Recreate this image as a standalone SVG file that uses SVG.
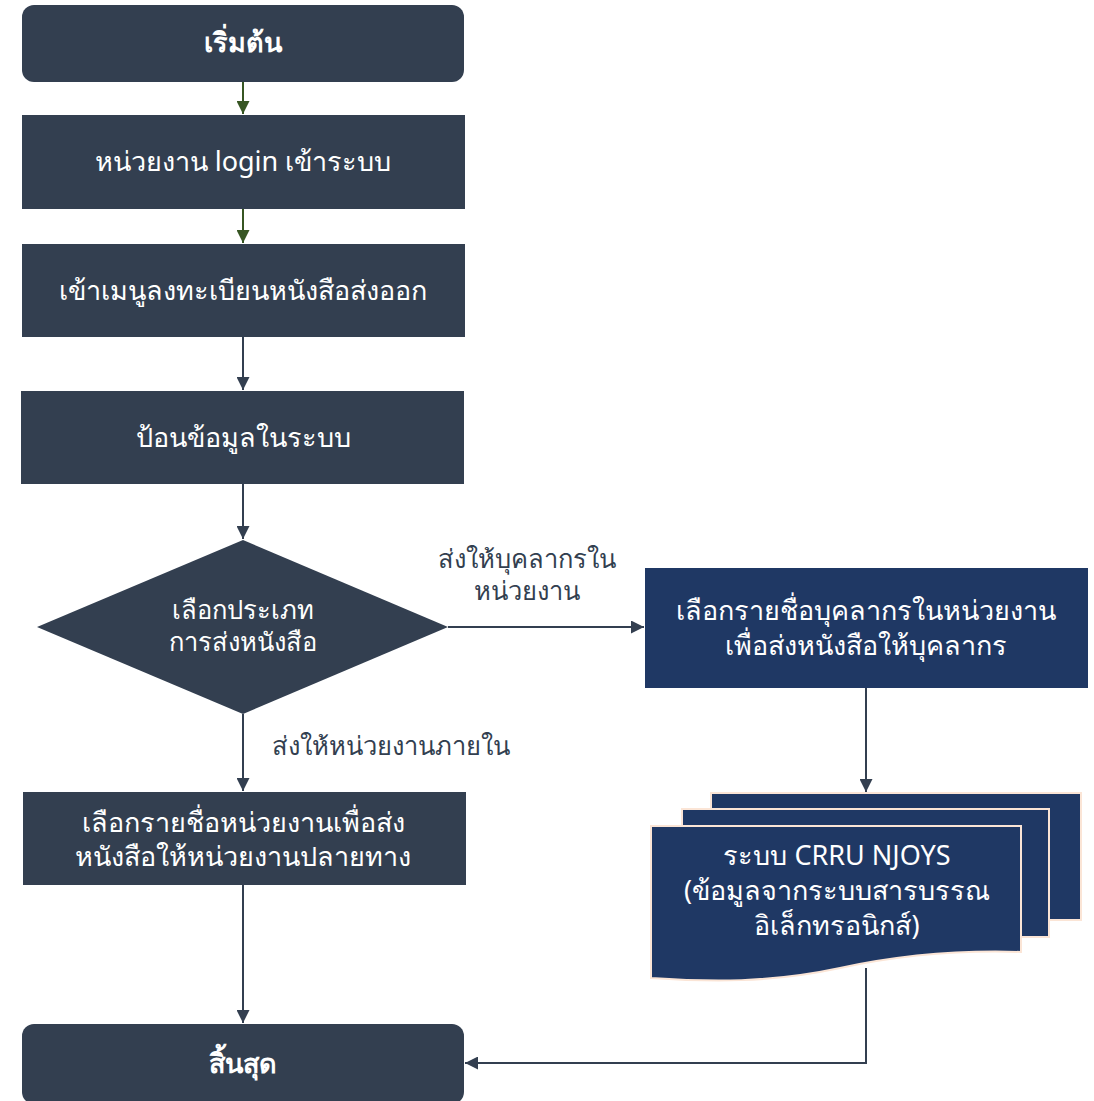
<svg xmlns="http://www.w3.org/2000/svg" width="1094" height="1101" viewBox="0 0 1094 1101">
<defs>
<style>
.t{font-family:"Noto Sans","DejaVu Sans",sans-serif;font-size:27px;fill:#ffffff;text-anchor:middle}
.dt{font-size:25.5px}
.b{font-weight:bold}
.l{font-family:"Noto Sans","DejaVu Sans",sans-serif;font-size:25.5px;fill:#333f50;text-anchor:middle}
.s{fill:#333f50}
.n{fill:#1f3864}
.c{fill:none;stroke:#333f50;stroke-width:2}
.g{fill:none;stroke:#375623;stroke-width:2}
.d{fill:#1f3864;stroke:#fbe5d6;stroke-width:2}
</style>
<marker id="a" viewBox="0 0 10 10" refX="10" refY="5" markerWidth="13" markerHeight="13" markerUnits="userSpaceOnUse" orient="auto"><path d="M0,0 L10,5 L0,10 Z" fill="#333f50"/></marker>
<marker id="ag" viewBox="0 0 10 10" refX="10" refY="5" markerWidth="13" markerHeight="13" markerUnits="userSpaceOnUse" orient="auto"><path d="M0,0 L10,5 L0,10 Z" fill="#375623"/></marker>
</defs>
<rect width="1094" height="1101" fill="#ffffff"/>
<g id="connectors">
<path class="g" d="M243,82 V114" style="marker-end:url(#ag)"/>
<path class="g" d="M243,209 V243" style="marker-end:url(#ag)"/>
<path class="c" d="M243,337 V390" style="marker-end:url(#a)"/>
<path class="c" d="M243,484 V539" style="marker-end:url(#a)"/>
<path class="c" d="M448,627 H644" style="marker-end:url(#a)"/>
<path class="c" d="M243,714 V791" style="marker-end:url(#a)"/>
<path class="c" d="M866,688 V792" style="marker-end:url(#a)"/>
<path class="c" d="M243,885 V1023" style="marker-end:url(#a)"/>
<path class="c" d="M866,968 V1063 H465" style="marker-end:url(#a)"/>
<text class="l" x="527" y="568">ส่งให้บุคลากรใน</text>
<text class="l" x="527" y="600">หน่วยงาน</text>
<text class="l" x="391" y="755">ส่งให้หน่วยงานภายใน</text>
</g>
<g id="start">
<rect class="s" x="22" y="5" width="442" height="77" rx="12"/>
<text class="t b" x="243" y="52">เริ่มต้น</text>
</g>
<g id="login">
<rect class="s" x="22" y="115" width="443" height="94"/>
<text class="t" x="243" y="171">หน่วยงาน login เข้าระบบ</text>
</g>
<g id="menu">
<rect class="s" x="22" y="244" width="443" height="93"/>
<text class="t" x="243" y="300">เข้าเมนูลงทะเบียนหนังสือส่งออก</text>
</g>
<g id="input">
<rect class="s" x="21" y="391" width="443" height="93"/>
<text class="t" x="243" y="447">ป้อนข้อมูลในระบบ</text>
</g>
<g id="decision">
<path class="s" d="M243,540 L448,627 L243,714 L37,627 Z"/>
<text class="t dt" x="243" y="619">เลือกประเภท</text>
<text class="t dt" x="243" y="651">การส่งหนังสือ</text>
</g>
<g id="selectPerson">
<rect class="n" x="645" y="568" width="443" height="120"/>
<text class="t" x="866" y="620">เลือกรายชื่อบุคลากรในหน่วยงาน</text>
<text class="t" x="866" y="655">เพื่อส่งหนังสือให้บุคลากร</text>
</g>
<g id="selectUnit">
<rect class="s" x="23" y="792" width="443" height="93"/>
<text class="t" x="243" y="832">เลือกรายชื่อหน่วยงานเพื่อส่ง</text>
<text class="t" x="243" y="866">หนังสือให้หน่วยงานปลายทาง</text>
</g>
<g id="system">
<rect class="d" x="711" y="793" width="370" height="127"/>
<rect class="d" x="682" y="809" width="367" height="128"/>
<path class="d" d="M651,826 H1021 V952 C960,950 900,955 840,968 C770,983 710,982 651,978 Z"/>
<text class="t" x="837" y="865">ระบบ CRRU NJOYS</text>
<text class="t" x="837" y="900">(ข้อมูลจากระบบสารบรรณ</text>
<text class="t" x="837" y="935">อิเล็กทรอนิกส์)</text>
</g>
<g id="end">
<rect class="s" x="22" y="1024" width="442" height="80" rx="12"/>
<text class="t b" x="243" y="1073">สิ้นสุด</text>
</g>
</svg>
